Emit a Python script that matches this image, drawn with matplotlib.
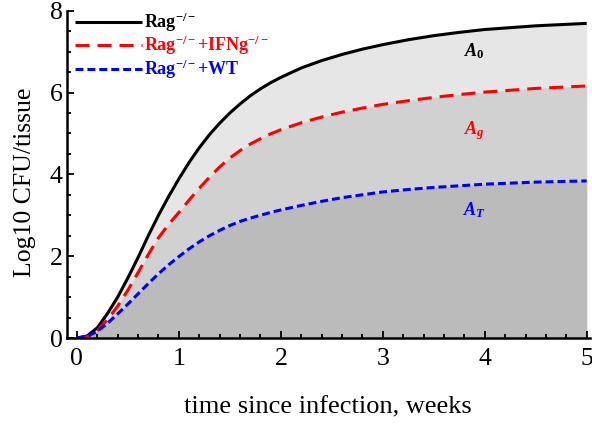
import matplotlib
matplotlib.use("Agg")
import matplotlib.pyplot as plt
from matplotlib.ticker import MultipleLocator

plt.rcParams['font.family'] = ['Liberation Serif', 'DejaVu Serif']
plt.rcParams['mathtext.fontset'] = 'custom'
plt.rcParams['mathtext.rm'] = 'Liberation Serif:bold'
plt.rcParams['mathtext.it'] = 'Liberation Serif:italic:bold'
plt.rcParams['mathtext.bf'] = 'Liberation Serif:bold'

# time (weeks)
t = [0, 0.1, 0.2, 0.3, 0.4, 0.5, 0.6, 0.7, 0.8, 0.9, 1.0, 1.1, 1.2, 1.3, 1.4,
     1.5, 1.6, 1.7, 1.8, 1.9, 2.0, 2.2, 2.4, 2.6, 2.8, 3.0, 3.25, 3.5, 3.75,
     4.0, 4.5, 5.0]
rag = [0, 0.05, 0.25, 0.6, 1.0, 1.47, 1.97, 2.5, 3.0, 3.46, 3.89, 4.29,
       4.65, 4.97, 5.25, 5.5, 5.72, 5.92, 6.09, 6.24, 6.37, 6.6, 6.78, 6.93,
       7.06, 7.17, 7.29, 7.39, 7.47, 7.54, 7.63, 7.69]
rag_ifng = [0, 0.03, 0.18, 0.45, 0.78, 1.17, 1.6, 2.04, 2.45, 2.78, 3.07,
            3.37, 3.66, 3.93, 4.18, 4.4, 4.58, 4.74, 4.87, 4.99, 5.09, 5.26,
            5.4, 5.52, 5.62, 5.71, 5.8, 5.88, 5.95, 6.01, 6.1, 6.16]
rag_wt = [0, 0.04, 0.16, 0.36, 0.59, 0.83, 1.08, 1.33, 1.57, 1.79, 1.99, 2.18,
          2.35, 2.5, 2.63, 2.75, 2.85, 2.93, 3.0, 3.07, 3.13, 3.24, 3.34,
          3.43, 3.5, 3.57, 3.63, 3.68, 3.72, 3.76, 3.81, 3.84]

labels = [r'Rag$^{-/-}$', r'Rag$^{-/-}$+IFNg$^{-/-}$', r'Rag$^{-/-}$+WT']
area_labels = [r'$A_{\mathrm{0}}$', r'$A_g$', r'$A_T$']
area_label_x = [3.9, 3.9, 3.9]
area_label_y = [7.0, 5.08, 3.13]

fig = plt.figure(figsize=(5.92, 4.24), dpi=100)
ax = fig.add_axes([0.1127, 0.2028, 0.8835, 0.772])

ax.fill_between(t, 0, rag, color='#e6e6e6', lw=0)
ax.fill_between(t, 0, rag_ifng, color='#d1d1d1', lw=0)
ax.fill_between(t, 0, rag_wt, color='#bbbbbb', lw=0)

l1, = ax.plot(t, rag, color='black', lw=2.2, solid_capstyle='butt')
l2, = ax.plot(t, rag_ifng, color='#ff0000', lw=2.2, dashes=(4.6, 2.6))
l3, = ax.plot(t, rag_wt, color='#0000ff', lw=2.2, dashes=(2.6, 1.3))

colors = ['black', '#ff0000', '#0000ff']
for x, y, s, c in zip(area_label_x, area_label_y, area_labels, colors):
    ax.text(x, y, s, color=c, fontsize=13, ha='center', va='center')

ax.set_xlim(-0.1, 5.03)
ax.set_ylim(0, 8)
ax.xaxis.set_major_locator(MultipleLocator(1))
ax.xaxis.set_minor_locator(MultipleLocator(0.2))
ax.yaxis.set_major_locator(MultipleLocator(2))
ax.yaxis.set_minor_locator(MultipleLocator(0.5))
ax.tick_params(which='both', direction='in', width=1.3, labelsize=18.5)
ax.tick_params(which='major', length=5)
ax.tick_params(which='minor', length=3)
ax.tick_params(axis='x', pad=7)
ax.tick_params(axis='y', pad=3)
for s in ['top', 'right']:
    ax.spines[s].set_visible(False)
for s in ['left', 'bottom']:
    ax.spines[s].set_linewidth(1.8)

ax.set_xlabel('time since infection, weeks', fontsize=19, labelpad=19)
ax.set_ylabel('Log10 CFU/tissue', fontsize=18.5, va='center')
ax.yaxis.set_label_coords(-0.08, 0.475)

leg = ax.legend([l1, l2, l3], labels, loc='upper left',
                bbox_to_anchor=(0.016, 1.0), frameon=False, borderpad=0,
                borderaxespad=0, handlelength=3.7, handletextpad=0.1,
                labelspacing=0.0, prop={'size': 13, 'weight': 'bold'})
for txt, c in zip(leg.get_texts(), colors):
    txt.set_color(c)

fig.savefig('out.png', dpi=100)
